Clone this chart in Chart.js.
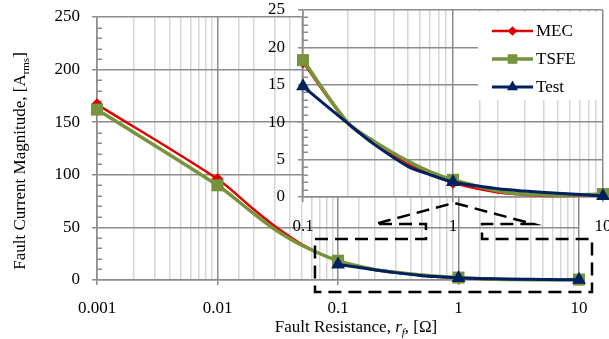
<!DOCTYPE html>
<html lang="en">
<head>
  <meta charset="UTF-8" />
  <title>Fault Current Magnitude vs Fault Resistance</title>
  <script src="https://cdn.jsdelivr.net/npm/chart.js"></script>
  <style>
    html, body {
      margin: 0;
      padding: 0;
      background: #fff;
      overflow: hidden;
    }
    .wrap {
      position: relative;
      width: 609px;
      height: 339px;
    }
    #mainChart {
      position: absolute;
      left: 0;
      top: 0;
    }
    /* inset sits over the upper right of the main plot */
    #insetChart {
      position: absolute;
      left: 240px;
      top: 0;
    }
  </style>
</head>
<body>
  <div class="wrap">
    <canvas id="mainChart" width="609" height="339"></canvas>
    <canvas id="insetChart" width="375" height="240"></canvas>
  </div>

  <script>
    // Fault resistance [ohm] and fault current magnitude [A rms];
    // markers are shown only at the decade points
    const resistance = [0.001, 0.01, 0.02, 0.03, 0.05, 0.1, 0.2, 0.3, 0.5, 0.7, 1, 2, 3, 5, 10];
    const mecValues  = [167, 96, 67, 51, 34, 18.0, 9.8, 7.2, 4.5, 3.2, 1.9, 0.6, 0.3, 0.13, 0.35];
    const tsfeValues = [162, 90, 63, 48, 33, 18.3, 9.9, 7.4, 4.8, 3.4, 2.3, 0.8, 0.4, 0.25, 0.4];
    const testValues = [null, null, null, null, null, 14.8, 9.8, 7.0, 4.1, 3.0, 2.0, 1.1, 0.8, 0.5, 0.15];
    const seriesLabels = ['MEC', 'TSFE', 'Test'];

    const RED = '#E00000';
    const GREEN = '#77933C';
    const NAVY = '#002060';
    const MAJOR = '#8C8C8C';
    const MINOR = '#D6D6D6';
    const SERIF = "'Liberation Serif', 'Times New Roman', serif";

    Chart.defaults.font.family = SERIF;
    Chart.defaults.font.size = 17;
    Chart.defaults.color = '#000';

    function isDecade(v) {
      const e = Math.log10(v);
      return Math.abs(e - Math.round(e)) < 1e-9;
    }

    function makeSeries(fromX) {
      const start = resistance.indexOf(fromX);
      const xs = resistance.slice(start);
      const pts = vals => xs.map((x, i) => ({ x: x, y: vals[start + i] }));
      const marker = r => c => (c.raw && isDecade(c.raw.x)) ? r : 0;
      const common = { clip: false, pointBorderWidth: 0, spanGaps: false, capBezierPoints: false, tension: 0.3 };
      return [
        Object.assign({
          label: seriesLabels[0], data: pts(mecValues),
          borderColor: RED, backgroundColor: RED, pointBackgroundColor: RED,
          borderWidth: 2.5, pointStyle: 'rectRot', markerRadius: 6, pointRadius: marker(6), order: 3
        }, common),
        Object.assign({
          label: seriesLabels[1], data: pts(tsfeValues),
          borderColor: GREEN, backgroundColor: GREEN, pointBackgroundColor: GREEN,
          borderWidth: 3.5, pointStyle: 'rect', markerRadius: 8.5, pointRadius: marker(8.5), order: 2
        }, common),
        Object.assign({
          label: seriesLabels[2], data: pts(testValues),
          borderColor: NAVY, backgroundColor: NAVY, pointBackgroundColor: NAVY,
          borderWidth: 3, pointStyle: 'triangle', markerRadius: 8, pointRadius: marker(8), order: 1
        }, common)
      ];
    }

    // white plot area for the inset
    const plotBackground = {
      id: 'plotBackground',
      beforeDraw(chart) {
        const { ctx, chartArea: a } = chart;
        ctx.save();
        ctx.fillStyle = '#fff';
        ctx.fillRect(a.left, a.top, a.right - a.left, a.bottom - a.top);
        ctx.restore();
      }
    };

    // small inward tick marks on the value axis
    const minorTicks = {
      id: 'minorTicks',
      beforeDatasetsDraw(chart, args, opts) {
        const y = chart.scales.y;
        const left = chart.chartArea.left;
        const ctx = chart.ctx;
        ctx.save();
        ctx.strokeStyle = MAJOR;
        ctx.lineWidth = 1.5;
        for (let v = y.min; v <= y.max; v += opts.step) {
          if (v % opts.major === 0) continue;
          const py = Math.round(y.getPixelForValue(v)) + 0.25;
          ctx.beginPath();
          ctx.moveTo(left, py);
          ctx.lineTo(left + 5, py);
          ctx.stroke();
        }
        ctx.restore();
      }
    };

    // dashed zoom callout around the 0.1 - 10 ohm region (data coords of main chart)
    const calloutPath = [
      [0.0644, 39], [0.537, 39], [0.537, 53.3], [0.203, 53.3], [0.918, 73.3],
      [4.15, 53.3], [1.567, 53.3], [1.567, 39], [12.82, 39], [12.82, -11.4], [0.0644, -11.4]
    ];
    const zoomCallout = {
      id: 'zoomCallout',
      afterDatasetsDraw(chart) {
        const { ctx, scales } = chart;
        ctx.save();
        ctx.strokeStyle = '#000';
        ctx.lineWidth = 2.5;
        ctx.setLineDash([13, 7]);
        ctx.beginPath();
        calloutPath.forEach((p, i) => {
          const px = scales.x.getPixelForValue(p[0]);
          const py = scales.y.getPixelForValue(p[1]);
          if (i === 0) ctx.moveTo(px, py); else ctx.lineTo(px, py);
        });
        ctx.closePath();
        ctx.stroke();
        ctx.restore();
      }
    };

    // axis titles with italic / subscript parts
    function fontFor(r, size) {
      return (r.italic ? 'italic ' : '') + (r.sub ? Math.round(size * 0.66) : size) + 'px ' + SERIF;
    }
    function measureRuns(ctx, runs, size) {
      let total = 0;
      runs.forEach(r => {
        ctx.font = fontFor(r, size);
        r.w = ctx.measureText(r.text).width;
        total += r.w;
      });
      return total;
    }
    function paintRuns(ctx, runs, size, x) {
      runs.forEach(r => {
        ctx.font = fontFor(r, size);
        ctx.fillText(r.text, x, r.sub ? 4 : 0);
        x += r.w;
      });
    }
    const axisTitles = {
      id: 'axisTitles',
      afterDraw(chart) {
        const ctx = chart.ctx;
        const size = 17;
        ctx.save();
        ctx.fillStyle = '#000';
        ctx.textBaseline = 'alphabetic';

        const xRuns = [
          { text: 'Fault Resistance, ' },
          { text: 'r', italic: true },
          { text: 'f', italic: true, sub: true },
          { text: ', [\u03A9]' }
        ];
        const xw = measureRuns(ctx, xRuns, size);
        ctx.save();
        ctx.translate(356, 332);
        paintRuns(ctx, xRuns, size, -xw / 2);
        ctx.restore();

        const yRuns = [
          { text: 'Fault Current Magnitude, [A' },
          { text: 'rms', sub: true },
          { text: ']' }
        ];
        const yw = measureRuns(ctx, yRuns, size);
        ctx.save();
        ctx.translate(25, 161);
        ctx.rotate(-Math.PI / 2);
        paintRuns(ctx, yRuns, size, -yw / 2);
        ctx.restore();

        ctx.restore();
      }
    };

    // legend box inside the inset plot
    const insetLegend = {
      id: 'insetLegend',
      afterDatasetsDraw(chart) {
        const { ctx, chartArea: a } = chart;
        const boxLeft = a.right - 125;
        ctx.save();
        ctx.fillStyle = '#fff';
        ctx.fillRect(boxLeft, a.top + 2, 124, 88);
        ctx.font = '17px ' + SERIF;
        ctx.textBaseline = 'middle';
        chart.data.datasets.forEach((ds, i) => {
          const y = a.top + 21 + i * 28;
          const x0 = boxLeft + 14;
          ctx.strokeStyle = ds.borderColor;
          ctx.lineWidth = ds.borderWidth;
          ctx.beginPath();
          ctx.moveTo(x0, y);
          ctx.lineTo(x0 + 41, y);
          ctx.stroke();
          ctx.fillStyle = ds.pointBackgroundColor;
          Chart.helpers.drawPoint(ctx, {
            pointStyle: ds.pointStyle, radius: ds.markerRadius * 0.8, rotation: 0, borderWidth: 0
          }, x0 + 20.5, y);
          ctx.fillStyle = '#000';
          ctx.fillText(ds.label, x0 + 44, y + 1);
        });
        ctx.restore();
      }
    };

    // fixed axis sizes, and no extra label overhang padding
    function fixSize(prop, size) {
      return s => {
        s[prop] = size;
        s.paddingTop = 0;
        s.paddingBottom = 0;
        s.paddingLeft = 0;
        s.paddingRight = 0;
      };
    }

    function logAxis(min, max, height, padding) {
      return {
        type: 'logarithmic',
        min: min,
        max: max,
        afterFit: fixSize('height', height),
        border: { color: MAJOR, width: 1.5 },
        grid: {
          color: c => (c.tick && isDecade(c.tick.value)) ? MAJOR : MINOR,
          lineWidth: 1.5,
          tickLength: 5,
          tickColor: c => (c.tick && isDecade(c.tick.value)) ? MAJOR : 'rgba(0,0,0,0)'
        },
        ticks: {
          autoSkip: false,
          maxRotation: 0,
          padding: padding,
          callback: v => isDecade(v) ? String(v) : ''
        }
      };
    }

    function valueAxis(max, step, major, width, padding) {
      return {
        min: 0,
        max: max,
        afterFit: fixSize('width', width),
        border: { color: MAJOR, width: 1.5 },
        grid: {
          color: c => (c.tick && c.tick.value % major === 0) ? MAJOR : 'rgba(0,0,0,0)',
          lineWidth: 1.5,
          tickLength: 5,
          tickColor: c => (c.tick && c.tick.value % major === 0) ? MAJOR : 'rgba(0,0,0,0)'
        },
        ticks: {
          stepSize: step,
          autoSkip: false,
          padding: padding,
          callback: v => v % major === 0 ? v : ''
        }
      };
    }

    new Chart(document.getElementById('mainChart'), {
      type: 'line',
      data: { datasets: makeSeries(0.001) },
      options: {
        responsive: false,
        animation: false,
        devicePixelRatio: 1,
        events: [],
        layout: { padding: { left: 0, top: 17, right: 30, bottom: 0 } },
        plugins: {
          legend: { display: false },
          tooltip: { enabled: false },
          minorTicks: { step: 10, major: 50 }
        },
        scales: {
          x: logAxis(0.001, 10, 59, 13),
          y: valueAxis(250, 10, 50, 97, 12)
        }
      },
      plugins: [minorTicks, zoomCallout, axisTitles]
    });

    new Chart(document.getElementById('insetChart'), {
      type: 'line',
      data: { datasets: makeSeries(0.1) },
      options: {
        responsive: false,
        animation: false,
        devicePixelRatio: 1,
        events: [],
        layout: { padding: { left: 0, top: 10, right: 12, bottom: 0 } },
        plugins: {
          legend: { display: false },
          tooltip: { enabled: false },
          minorTicks: { step: 1, major: 5 }
        },
        scales: {
          x: logAxis(0.1, 10, 43, 14),
          y: valueAxis(25, 1, 5, 63, 13)
        }
      },
      plugins: [plotBackground, minorTicks, insetLegend]
    });
  </script>
</body>
</html>
